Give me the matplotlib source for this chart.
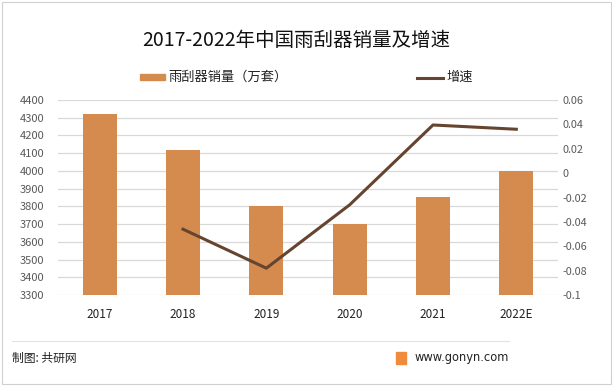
import matplotlib.pyplot as plt
from matplotlib.patches import Rectangle
from matplotlib.lines import Line2D

plt.rcParams['font.family'] = ['Noto Sans CJK SC', 'DejaVu Sans']

years = ['2017', '2018', '2019', '2020', '2021', '2022E']
sales = [4320, 4120, 3800, 3700, 3855, 3997]
growth = [None, -0.046, -0.078, -0.026, 0.0395, 0.036]

bar_color = '#D48B4D'
line_color = '#654530'
tick_color = '#595959'

fig = plt.figure(figsize=(6.13, 3.86), dpi=100)
W, H = 613, 386

ax = fig.add_axes([58 / W, 1 - 295 / H, 500 / W, 195 / H])
x = list(range(len(years)))
ax.bar(x, sales, width=0.41, color=bar_color, zorder=2)
ax.set_ylim(3300, 4400)
ax.set_yticks(range(3300, 4401, 100))
ax.set_xlim(-0.5, len(years) - 0.5)
ax.set_xticks(x)
ax.set_xticklabels(years, fontsize=8.5, color='#222222')
ax.grid(axis='y', color='#D9D9D9', linewidth=0.9, zorder=0)
ax.tick_params(axis='y', length=0, labelsize=8, labelcolor=tick_color, pad=10)
ax.tick_params(axis='x', length=0, pad=9)
for s in ax.spines.values():
    s.set_visible(False)

ax2 = ax.twinx()
gx = [i for i, g in zip(x, growth) if g is not None]
gy = [g for g in growth if g is not None]
ax2.plot(gx, gy, color=line_color, linewidth=2.2, zorder=3)
ax2.set_ylim(-0.1, 0.06)
ticks = [-0.1, -0.08, -0.06, -0.04, -0.02, 0, 0.02, 0.04, 0.06]
ax2.set_yticks(ticks)
ax2.set_yticklabels(['-0.1', '-0.08', '-0.06', '-0.04', '-0.02', '0', '0.02', '0.04', '0.06'])
ax2.tick_params(axis='y', length=0, labelsize=7.8, labelcolor=tick_color, pad=3)
for s in ax2.spines.values():
    s.set_visible(False)

# title and legend
fig.text(296 / W, 1 - 40 / H, '2017-2022年中国雨刮器销量及增速', ha='center', va='center',
         fontsize=14, color='#111111')
fig.patches.append(Rectangle((140 / W, 1 - 80 / H), 25 / W, 6 / H, transform=fig.transFigure,
                             color=bar_color))
fig.text(168 / W, 1 - 77 / H, '雨刮器销量（万套）', ha='left', va='center', fontsize=9.5, color='#222222')
fig.lines.append(Line2D([417 / W, 443 / W], [1 - 78 / H, 1 - 78 / H], transform=fig.transFigure,
                        color=line_color, linewidth=2.2))
fig.text(446 / W, 1 - 77 / H, '增速', ha='left', va='center', fontsize=9.5, color='#222222')

# footer
fig.lines.append(Line2D([12 / W, 509 / W], [1 - 341 / H, 1 - 341 / H], transform=fig.transFigure,
                        color='#E2E2E2', linewidth=0.8))
fig.text(12 / W, 1 - 358 / H, '制图: 共研网', ha='left', va='center', fontsize=8.5, color='#222222')
fig.patches.append(Rectangle((396 / W, 1 - 364 / H), 10 / W, 12 / H, transform=fig.transFigure,
                             color='#F08A3C'))
fig.text(509 / W, 1 - 357 / H, 'www.gonyn.com', ha='right', va='center', fontsize=8.3,
         color='#222222', family='DejaVu Sans')

# outer border
fig.patches.append(Rectangle((2 / W, 2 / H), 1 - 4 / W, 1 - 4 / H, transform=fig.transFigure,
                             fill=False, edgecolor='#D0D0D0', linewidth=0.8))

fig.savefig('out.png', dpi=100)
